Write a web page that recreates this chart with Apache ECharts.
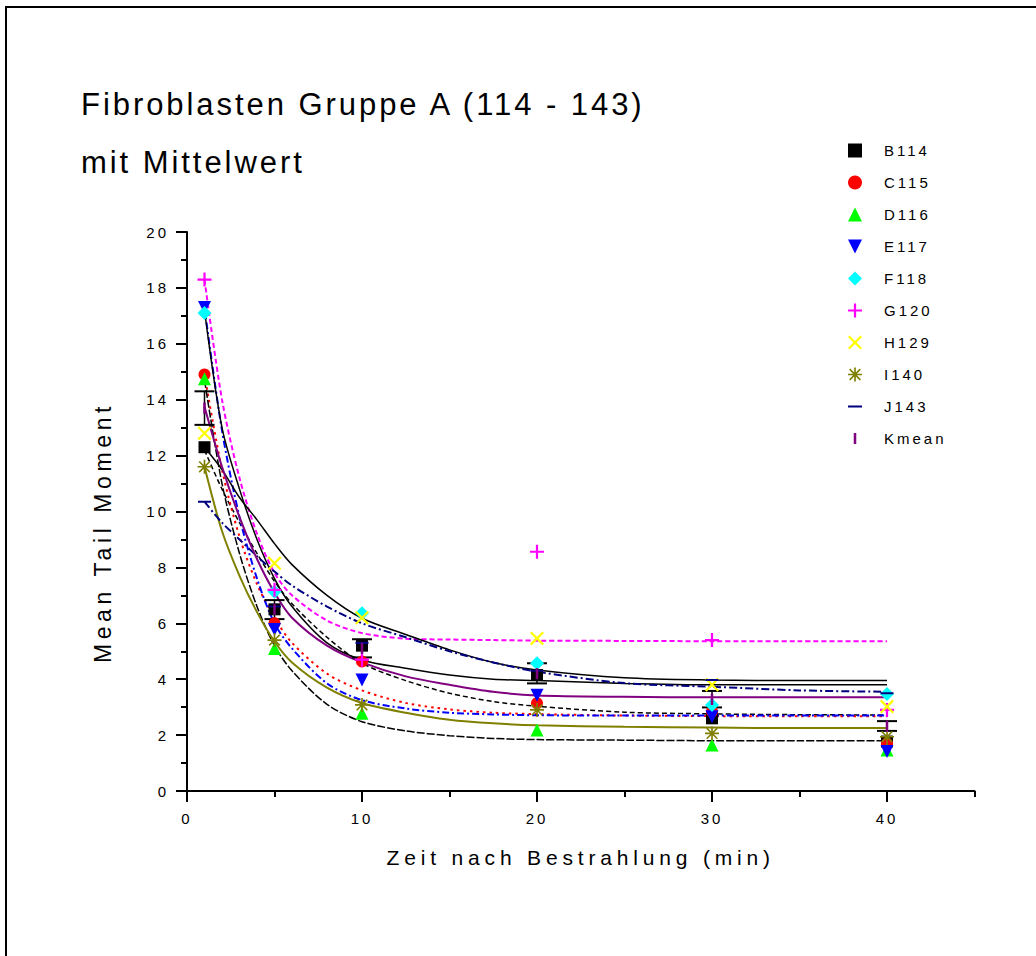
<!DOCTYPE html>
<html><head><meta charset="utf-8">
<script src="https://cdn.jsdelivr.net/npm/echarts@6/dist/echarts.min.js"></script>
<style>
html,body{margin:0;padding:0;background:#fff;}
#chart{width:1036px;height:956px;}
#chart text[style*="31px"]{letter-spacing:0.095em;}
#chart text[style*="23px"]{letter-spacing:0.2em;}
#chart text[style*="21px"]{letter-spacing:0.23em;}
#chart text[style*="15px"]{letter-spacing:0.2em;}
</style></head><body><div id="chart"></div>
<script>
// ---- data ----
const xs = [1, 5, 10, 20, 30, 40];
const B114 = [12.3, 6.5, 5.2, 4.15, 2.6, 1.77];
const C115 = [14.9, 6.0, 4.63, 3.14, 2.84, 1.7];
const D116 = [14.75, 5.1, 2.78, 2.18, 1.65, 1.47];
const E117 = [17.3, 5.78, 3.97, 3.43, 2.66, 1.41];
const F118 = [17.1, 7.13, 6.36, 4.57, 3.08, 3.47];
const G120 = [18.3, 7.2, 4.7, 8.56, 5.4, 2.9];
const H129 = [12.8, 8.15, 6.2, 5.46, 3.8, 3.02];
const I140 = [11.6, 5.4, 3.08, 2.9, 2.06, 1.94];
const J143 = [10.35, 6.6, 5.3, 4.3, 3.97, 3.5];
const Kmean = [13.7, 6.5, 5.1, 4.2, 3.28, 2.32];
const KmeanLow = [13.1, 6.15, 4.78, 3.85, 2.99, 2.15];
const KmeanHigh = [14.3, 6.83, 5.43, 4.57, 3.58, 2.5];

// fitted decay curves at these x positions
const fitX = [1, 2, 3, 4, 5, 6, 8, 10, 12.5, 15, 17.5, 20, 25, 30, 35, 40];
const fitB114 = [12.2, 10.8, 9.6, 8.5, 7.5, 6.7, 5.5, 4.57, 3.95, 3.5, 3.2, 3.03, 2.82, 2.76, 2.73, 2.72];
const fitC115 = [14.9, 11.5, 9.1, 7.4, 6.2, 5.3, 4.2, 3.6, 3.15, 2.92, 2.8, 2.75, 2.7, 2.68, 2.67, 2.67];
const fitD116 = [14.7, 11.0, 8.5, 6.6, 5.2, 4.3, 3.1, 2.48, 2.15, 1.98, 1.88, 1.84, 1.82, 1.8, 1.8, 1.8];
const fitE117 = [17.3, 12.9, 9.8, 7.6, 6.0, 5.1, 3.85, 3.25, 2.95, 2.8, 2.74, 2.71, 2.7, 2.7, 2.7, 2.7];
const fitF118 = [17.2, 13.0, 10.8, 9.0, 7.6, 6.6, 5.3, 4.69, 4.39, 4.15, 4.0, 3.95, 3.85, 3.8, 3.8, 3.8];
const fitG120 = [18.3, 14.0, 11.2, 9.2, 7.8, 7.0, 6.1, 5.65, 5.45, 5.42, 5.4, 5.38, 5.37, 5.36, 5.36, 5.36];
const fitH129 = [12.3, 11.5, 10.5, 9.7, 8.85, 8.1, 7.0, 6.18, 5.6, 5.05, 4.6, 4.33, 4.05, 3.97, 3.95, 3.95];
const fitI140 = [11.6, 9.3, 7.7, 6.4, 5.35, 4.6, 3.7, 3.15, 2.8, 2.55, 2.42, 2.35, 2.3, 2.27, 2.25, 2.25];
const fitJ143 = [10.35, 9.6, 9.0, 8.4, 7.85, 7.35, 6.6, 6.0, 5.5, 5.0, 4.6, 4.27, 3.86, 3.73, 3.6, 3.55];
const fitKmean = [13.75, 11.6, 9.8, 8.3, 7.1, 6.2, 5.2, 4.6, 4.1, 3.8, 3.55, 3.42, 3.37, 3.35, 3.35, 3.35];

const xTickValues = [0, 10, 20, 30, 40];
const xMinorTickValues = [5, 15, 25, 35, 45];

// ---- drawing ----
const FONT = "'Liberation Sans', Arial, sans-serif";
const SYM = {
  down: 'path://M0,0 L10,0 L5,10 Z',
  plus: 'path://M4.2,0 H5.8 V4.2 H10 V5.8 H5.8 V10 H4.2 V5.8 H0 V4.2 H4.2 Z',
  cross: 'path://M0,1.1 L1.1,0 L10,8.9 L8.9,10 Z M8.9,0 L10,1.1 L1.1,10 L0,8.9 Z',
  star: 'path://M4.4,0 H5.6 V10 H4.4 Z M0,4.4 H10 V5.6 H0 Z M0.8,1.6 L1.6,0.8 L9.2,8.4 L8.4,9.2 Z M8.4,0.8 L9.2,1.6 L1.6,9.2 L0.8,8.4 Z',
  dash: 'path://M0,0 L0.01,0 L0,0.01 Z M0,4.2 H10 V5.8 H0 Z M10,10 L9.99,10 L10,9.99 Z',
  vbar: 'path://M0,0 L0.01,0 L0,0.01 Z M4.1,1 H5.9 V9 H4.1 Z M10,10 L9.99,10 L10,9.99 Z'
};

const pts = arr => xs.map((x, i) => [x, arr[i]]);
const fitPts = arr => fitX.map((x, i) => [x, arr[i]]);

const markers = [
  {name: 'B114', vals: B114, color: '#000000', symbol: 'rect', size: 12},
  {name: 'C115', vals: C115, color: '#ff0000', symbol: 'circle', size: 12},
  {name: 'D116', vals: D116, color: '#00ff00', symbol: 'triangle', size: 13},
  {name: 'E117', vals: E117, color: '#0000ff', symbol: SYM.down, size: 13},
  {name: 'F118', vals: F118, color: '#00ffff', symbol: 'diamond', size: 14},
  {name: 'G120', vals: G120, color: '#ff00ff', symbol: SYM.plus, size: 14},
  {name: 'H129', vals: H129, color: '#ffff00', symbol: SYM.cross, size: 14},
  {name: 'I140', vals: I140, color: '#808000', symbol: SYM.star, size: 14},
  {name: 'J143', vals: J143, color: '#000080', symbol: SYM.dash, size: 13},
  {name: 'Kmean', vals: Kmean, color: '#800080', symbol: SYM.vbar, size: 14}
];

const fits = [
  {vals: fitB114, color: '#000000', type: [5, 3], width: 1.5},
  {vals: fitC115, color: '#ff0000', type: [2.5, 4], width: 2},
  {vals: fitD116, color: '#000000', type: [8, 2], width: 1.5},
  {vals: fitE117, color: '#0000ff', type: [7, 3, 2, 3], width: 2},
  {vals: fitF118, color: '#000000', type: 'solid', width: 1.5},
  {vals: fitG120, color: '#ff00ff', type: [5, 3], width: 2},
  {vals: fitH129, color: '#000000', type: 'solid', width: 1.5},
  {vals: fitI140, color: '#808000', type: 'solid', width: 2},
  {vals: fitJ143, color: '#000080', type: [8, 3, 2, 3], width: 2},
  {vals: fitKmean, color: '#800080', type: 'solid', width: 2}
];

const series = [];
fits.forEach((f, i) => {
  series.push({
    name: markers[i].name + ' fit', type: 'line', data: fitPts(f.vals),
    showSymbol: false, symbol: 'none', smooth: 0.3,
    lineStyle: {color: f.color, width: f.width, type: f.type}, z: 2, silent: true
  });
});
series.push({
  name: 'Kmean err', type: 'custom', z: 4, silent: true,
  data: xs.map((x, i) => [x, KmeanLow[i], KmeanHigh[i]]),
  encode: {x: 0, y: [1, 2]},
  renderItem: function (params, api) {
    const x = api.value(0);
    const lo = api.coord([x, api.value(1)]);
    const hi = api.coord([x, api.value(2)]);
    const w = 10;
    const st = {stroke: '#000', lineWidth: 2};
    return {type: 'group', children: [
      {type: 'line', shape: {x1: lo[0], y1: lo[1], x2: hi[0], y2: hi[1]}, style: {stroke: '#000', lineWidth: 1.5}},
      {type: 'line', shape: {x1: lo[0] - w, y1: lo[1], x2: lo[0] + w, y2: lo[1]}, style: st},
      {type: 'line', shape: {x1: hi[0] - w, y1: hi[1], x2: hi[0] + w, y2: hi[1]}, style: st}
    ]};
  }
});
markers.forEach(m => {
  series.push({
    name: m.name, type: 'scatter', data: pts(m.vals), symbol: m.symbol, symbolSize: m.size,
    itemStyle: {color: m.color, opacity: 1}, z: 5
  });
});

const chart = echarts.init(document.getElementById('chart'), null, {renderer: 'svg'});
chart.setOption({
  animation: false,
  backgroundColor: '#ffffff',
  title: [
    {text: 'Fibroblasten Gruppe A (114 - 143)', left: 81, top: 89, padding: 0,
     textStyle: {fontSize: 31, fontWeight: 'normal', color: '#000', fontFamily: FONT}},
    {text: 'mit Mittelwert', left: 81, top: 147, padding: 0,
     textStyle: {fontSize: 31, fontWeight: 'normal', color: '#000', fontFamily: FONT}}
  ],
  graphic: [
    {type: 'rect', shape: {x: 6, y: 7, width: 1100, height: 1100}, style: {fill: 'none', stroke: '#000', lineWidth: 2}, silent: true}
  ],
  legend: {
    orient: 'vertical', left: 848, top: 143, padding: 0,
    itemWidth: 14, itemHeight: 14, itemGap: 17, selectedMode: false,
    data: markers.map(m => ({name: m.name, icon: m.symbol})),
    textStyle: {fontSize: 15, lineHeight: 13, height: 13, color: '#000', fontFamily: FONT, padding: [0, 0, 0, 17]}
  },
  grid: {left: 187, top: 232, width: 787.5, height: 559, containLabel: false},
  xAxis: [
    {type: 'value', min: 0, max: 45, interval: 10, position: 'bottom',
     axisLine: {show: true, onZero: false, lineStyle: {color: '#000', width: 2}},
     axisTick: {show: true, length: 11, lineStyle: {color: '#000', width: 2}, customValues: xTickValues},
     axisLabel: {show: true, color: '#000', fontSize: 15, margin: 20, fontFamily: FONT, customValues: xTickValues},
     splitLine: {show: false},
     name: 'Zeit nach Bestrahlung (min)', nameLocation: 'middle', nameGap: 56,
     nameTextStyle: {fontSize: 21, color: '#000', fontFamily: FONT}},
    {type: 'value', min: 0, max: 45, interval: 5, position: 'bottom',
     axisLine: {show: false},
     axisTick: {show: true, length: 6, lineStyle: {color: '#000', width: 2}, customValues: xMinorTickValues},
     axisLabel: {show: false}, splitLine: {show: false}}
  ],
  yAxis: {
    type: 'value', min: 0, max: 20, interval: 2,
    axisLine: {show: true, onZero: false, lineStyle: {color: '#000', width: 2}},
    axisTick: {show: true, length: 11, lineStyle: {color: '#000', width: 2}},
    minorTick: {show: true, splitNumber: 2, length: 6, lineStyle: {color: '#000', width: 2}},
    axisLabel: {color: '#000', fontSize: 15, margin: 18, fontFamily: FONT},
    splitLine: {show: false}, minorSplitLine: {show: false},
    name: 'Mean Tail Moment', nameLocation: 'middle', nameGap: 73,
    nameTextStyle: {fontSize: 23, color: '#000', fontFamily: FONT, padding: [0, 42, 0, 0]}
  },
  series: series
});
</script></body></html>
